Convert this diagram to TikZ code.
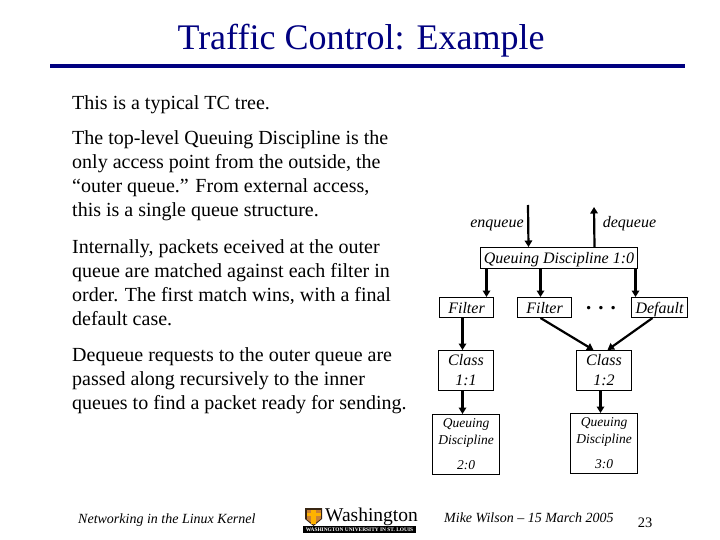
\documentclass[tikz,border=0pt]{standalone}
\usepackage{fontspec}
\setmainfont{Liberation Serif}
\usetikzlibrary{arrows.meta}
\definecolor{navy}{RGB}{0,0,128}
\tikzset{
 bodytext/.style={anchor=north west,align=left,inner sep=0pt,font=\fontsize{20}{24}\selectfont},
 boxn/.style={draw=black,line width=1pt,inner sep=0pt,anchor=north west,align=center,font=\fontsize{16}{20}\selectfont\itshape},
 oneline/.style={text height=12pt,text depth=1pt},
 qbox/.style={boxn,minimum width=67pt,minimum height=60pt,font=\fontsize{13.5}{17}\selectfont\itshape},
 lab/.style={inner sep=0pt,text height=11pt,text depth=3pt,font=\fontsize{16}{20}\selectfont\itshape},
 arr/.style={line width=2.2pt,-{Triangle[length=6.5pt,width=7.5pt]}},
}
\begin{document}
\begin{tikzpicture}[x=1pt,y=-1pt]
\useasboundingbox (0,0) rectangle (720,540);
\fill[white] (0,0) rectangle (720,540);
\node[inner sep=0pt,text=navy,font=\fontsize{36}{40}\selectfont] (title) at (361,41) {Traffic Control: Example};
\coordinate (ruleL) at (50,66); \coordinate (ruleR) at (685,66);
\draw[navy,line width=4pt] (ruleL) -- (ruleR);
\node[bodytext] (p1) at (72,95) {This is a typical TC tree.};
\node[bodytext] (p2) at (72,130) {The top-level Queuing Discipline is the\\only access point from the outside, the\\“outer queue.”  From external access,\\this is a single queue structure.};
\node[bodytext] (p3) at (72,239) {Internally, packets eceived at the outer\\queue are matched against each filter in\\order.  The first match wins, with a final\\default case.};
\node[bodytext] (p4) at (72,347) {Dequeue requests to the outer queue are\\passed along recursively to the inner\\queues to find a packet ready for sending.};
% boxes
\node[boxn,oneline,minimum width=157pt,minimum height=21pt] (qd) at (480,247) {Queuing Discipline 1:0};
\node[boxn,oneline,minimum width=54pt,minimum height=20pt] (f1) at (439,297) {Filter};
\node[boxn,oneline,minimum width=54pt,minimum height=20pt] (f2) at (517,297) {Filter};
\node[boxn,oneline,minimum width=56pt,minimum height=20pt] (df) at (631,297) {Default};
\node[boxn,minimum width=55pt,minimum height=40pt] (c1) at (438,350) {Class\\1:1};
\node[boxn,minimum width=55pt,minimum height=40pt] (c2) at (576,350) {Class\\1:2};
\node[qbox] (q2) at (432,414) {Queuing\\Discipline\\[8pt]2:0};
\node[qbox] (q3) at (570,413) {Queuing\\Discipline\\[8pt]3:0};
% labels
\node[lab] (enq) at (497,224) {enqueue};
\node[lab] (deq) at (629.5,224) {dequeue};
\node[inner sep=0pt,font=\fontsize{21}{21}\selectfont\bfseries] (dots) at (601,308) {. . .};
% connectors
\coordinate (enqS) at (528,205);
\coordinate (deqE) at (594,207);
\draw[arr] (enqS) -- ([xshift=-30.5pt]qd.north);
\draw[arr] ([xshift=35.5pt]qd.north) -- (deqE);
\draw[arr] ([xshift=-72.5pt]qd.south) -- ([xshift=20pt]f1.north);
\draw[arr] ([xshift=-18.5pt]qd.south) -- ([xshift=-4pt]f2.north);
\draw[arr] ([xshift=76.5pt]qd.south) -- ([xshift=-24pt]df.north);
\draw[arr] ([xshift=-4pt]f1.south) -- ([xshift=-3.5pt]c1.north);
\draw[arr] ([xshift=-4pt]f2.south) -- ([xshift=-10.5pt]c2.north);
\draw[arr] ([xshift=-7pt]df.south) -- ([xshift=3.5pt]c2.north);
\draw[arr] ([xshift=-3.5pt]c1.south) -- ([xshift=-3.5pt]q2.north);
\draw[arr] ([xshift=-3.5pt]c2.south) -- ([xshift=-3.5pt]q3.north);
% footer
\node[inner sep=0pt,anchor=west,font=\fontsize{14}{16}\selectfont\itshape] (foot1) at (78,520) {Networking in the Linux Kernel};
\node[inner sep=0pt,anchor=west,font=\fontsize{14}{16}\selectfont\itshape] (foot2) at (444,518) {Mike Wilson – 15 March 2005};
\node[inner sep=0pt,font=\fontsize{14.5}{16}\selectfont] (pg) at (645,523) {23};
% logo
\fill[black] (303,526) rectangle (416,533);
\node[inner sep=0pt,text=white,font=\fontsize{5.4}{6}\selectfont\bfseries] (wu) at (359.5,529.5) {WASHINGTON UNIVERSITY IN ST. LOUIS};
\node[inner sep=0pt,anchor=west,font=\fontsize{19.5}{20}\selectfont] (wash) at (325,517) {Washington};
\fill[black!70!brown] (305,508) -- (322,508) -- (322,519) -- (313.5,526) -- (305,519) -- cycle;
\fill[brown!85!orange] (306.5,509.5) rectangle (320.5,519);
\fill[brown!85!orange] (306.5,519) -- (320.5,519) -- (313.5,524.5) -- cycle;
\fill[orange!60!yellow] (311,509.5) rectangle (316,524);
\fill[orange!60!yellow] (306.5,513) rectangle (320.5,516);
\end{tikzpicture}
\end{document}
